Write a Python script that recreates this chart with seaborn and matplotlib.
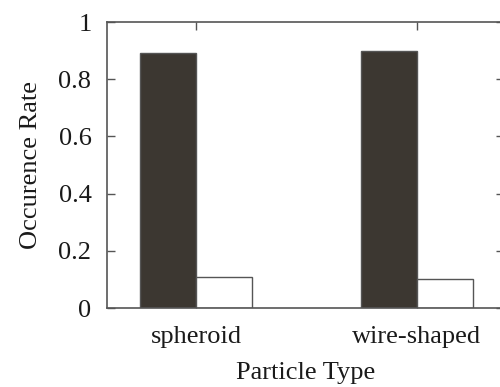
import matplotlib
matplotlib.use("Agg")
import matplotlib.pyplot as plt
import seaborn as sns
import pandas as pd

categories = ["spheroid", "wire-shaped"]
series_names = ["identified", "misidentified"]
identified = [0.89, 0.90]
misidentified = [0.11, 0.10]
y_ticks = [0, 0.2, 0.4, 0.6, 0.8, 1]
y_tick_labels = ["0", "0.2", "0.4", "0.6", "0.8", "1"]

df = pd.DataFrame({
    "Particle Type": categories * 2,
    "Occurence Rate": identified + misidentified,
    "series": [series_names[0]] * 2 + [series_names[1]] * 2,
})

sns.set_style("white")
plt.rcParams["font.family"] = ["Liberation Serif", "DejaVu Serif"]

fig = plt.figure(figsize=(5, 3.87), dpi=100)
ax = fig.add_axes([0.2134, 0.2041, 0.7946, 0.7390])

sns.barplot(data=df, x="Particle Type", y="Occurence Rate", hue="series",
            palette=["#3c3731", "#ffffff"], width=0.504, ax=ax,
            edgecolor="#555555", linewidth=1.0, legend=False, saturation=1)

fs = 19
ax.set_ylim(0, 1)
ax.set_xlim(-0.404, 1.394)
ax.set_yticks(y_ticks)
ax.set_yticklabels(y_tick_labels)
ax.tick_params(direction="in", length=6, width=1, color="#555555",
               top=True, right=True, bottom=True, left=True,
               labelsize=fs, pad=11, labelcolor="#1a1a1a")
ax.tick_params(axis="x", pad=13)
for s in ax.spines.values():
    s.set_color("#555555")
    s.set_linewidth(1.2)
    s.set_visible(True)
ax.set_xlabel("Particle Type", fontsize=fs, color="#1a1a1a", labelpad=10)
ax.set_ylabel("Occurence Rate", fontsize=fs, color="#1a1a1a", labelpad=12)

fig.savefig("out.png", dpi=100)
